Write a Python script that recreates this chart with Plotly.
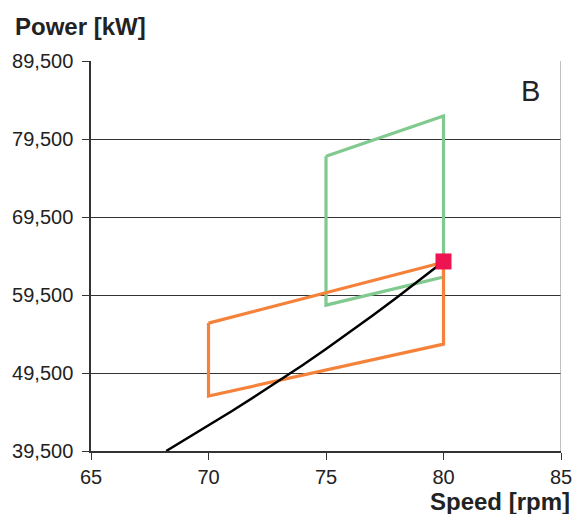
import plotly.graph_objects as go

# Data
green_speed = [75, 80, 80, 75, 75]
green_power = [77300, 82450, 61800, 58200, 77300]

orange_speed = [70, 80, 80, 70, 70]
orange_power = [55900, 63700, 53200, 46550, 55900]

curve_speed = [68.2, 69, 70, 71, 72, 73, 74, 75, 76, 77, 78, 79, 80]
curve_power = [39500, 40950, 42750, 44620, 46550, 48480, 50500, 52570, 54700, 56900, 59140, 61440, 63800]

point_speed = [80]
point_power = [63800]

y_ticks = [39500, 49500, 59500, 69500, 79500, 89500]
x_ticks = [65, 70, 75, 80, 85]

FONT = "Liberation Sans, Arial, Helvetica, sans-serif"

L, R, T, B = 91, 12, 61, 63
PW, PH = 573 - L - R, 514 - T - B

fig = go.Figure()
fig.add_trace(go.Scatter(x=green_speed, y=green_power, mode="lines",
                         line=dict(color="#80c98f", width=3.2), hoverinfo="skip"))
fig.add_trace(go.Scatter(x=orange_speed, y=orange_power, mode="lines",
                         line=dict(color="#f5823a", width=3.2), hoverinfo="skip"))
fig.add_trace(go.Scatter(x=curve_speed, y=curve_power, mode="lines",
                         line=dict(color="#000000", width=2.5), hoverinfo="skip"))
fig.add_trace(go.Scatter(x=point_speed, y=point_power, mode="markers",
                         marker=dict(symbol="square", size=16, color="#ee1452"), hoverinfo="skip"))

fig.update_layout(
    width=573, height=514,
    margin=dict(l=L, r=R, t=T, b=B),
    paper_bgcolor="white", plot_bgcolor="white",
    showlegend=False,
    font=dict(family=FONT, color="#222222", size=20),
    xaxis=dict(range=[65, 85], tickvals=x_ticks, showgrid=False, zeroline=False,
               automargin=False,
               showline=True, linecolor="#333333", linewidth=1.5,
               ticks="outside", ticklen=7, tickcolor="#333333",
               tickfont=dict(size=20, family=FONT, color="#222222")),
    yaxis=dict(range=[39500, 89500], tickvals=y_ticks, tickformat=",d",
               automargin=False, ticklabelstandoff=5,
               showgrid=True, gridcolor="#333333", gridwidth=1, zeroline=False,
               showline=True, linecolor="#333333", linewidth=1.5,
               ticks="outside", ticklen=7, tickcolor="#333333",
               tickfont=dict(size=20, family=FONT, color="#222222")),
    shapes=[dict(type="line", xref="x", yref="paper", x0=85, x1=85, y0=0, y1=1,
                 line=dict(color="#999999", width=1.2))],
    annotations=[
        dict(text="<b>Power [kW]</b>", xref="paper", yref="paper", x=-(91 - 13) / PW, y=1 + 35 / PH,
             xanchor="left", yanchor="middle", showarrow=False,
             font=dict(size=24, family=FONT, color="#222222")),
        dict(text="<b>Speed [rpm]</b>", xref="paper", yref="paper", x=1 + 11 / PW, y=-50 / PH,
             xanchor="right", yanchor="middle", showarrow=False,
             font=dict(size=24, family=FONT, color="#222222")),
        dict(text="B", xref="x", yref="y", x=84.2, y=85700,
             xanchor="right", yanchor="middle", showarrow=False,
             font=dict(size=29, family=FONT, color="#222222")),
    ],
)

fig.write_html(
    "out.html",
    config={"displayModeBar": False},
    post_script="document.body.style.margin='0';document.body.style.padding='0';"
                "document.documentElement.style.overflow='hidden';",
)
